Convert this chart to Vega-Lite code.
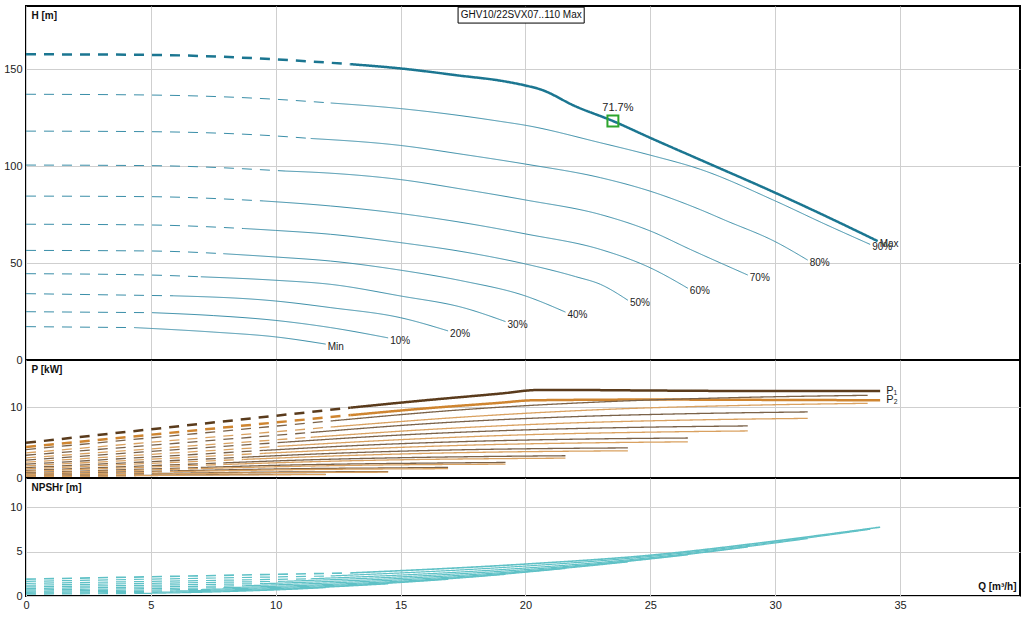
{
  "$schema": "https://vega.github.io/schema/vega-lite/v6.json",
  "padding": {"left": 2, "top": 5, "right": 5, "bottom": 2},
  "background": "white",
  "spacing": 0,
  "bounds": "flush",
  "config": {
    "font": "Liberation Sans",
    "view": {"stroke": "#000000", "strokeWidth": 2},
    "axis": {"labelFont": "Liberation Sans", "labelFontSize": 11, "labelColor": "#222222", "ticks": false, "domain": false, "grid": true, "gridColor": "#cfcfcf", "labelPadding": 4, "labelFlush": false, "titleFont": "Liberation Sans", "titleFontSize": 10, "titleFontWeight": "bold", "titleColor": "#111111"},
    "text": {"font": "Liberation Sans", "fontSize": 10, "color": "#222222"}
  },
  "datasets": {
    "h": [
      {"s":"Max","g":"d","Q":0,"H":157.6},{"s":"Max","g":"d","Q":5,"H":157.3},{"s":"Max","g":"d","Q":10,"H":155},{"s":"Max","g":"d","Q":13,"H":152.5},
      {"s":"Max","g":"s","Q":13,"H":152.5},{"s":"Max","g":"s","Q":15,"H":150.3},{"s":"Max","g":"s","Q":17.5,"H":146.4},{"s":"Max","g":"s","Q":19,"H":144},{"s":"Max","g":"s","Q":20,"H":141.5},{"s":"Max","g":"s","Q":20.6,"H":139.5},{"s":"Max","g":"s","Q":22,"H":130.8},{"s":"Max","g":"s","Q":23.5,"H":123.2},{"s":"Max","g":"s","Q":25,"H":114.5},{"s":"Max","g":"s","Q":27,"H":103.2},{"s":"Max","g":"s","Q":30,"H":86.2},{"s":"Max","g":"s","Q":32,"H":74.3},{"s":"Max","g":"s","Q":34.1,"H":61.3},
      {"s":"90%","g":"d","Q":0,"H":137},{"s":"90%","g":"d","Q":5,"H":136.6},{"s":"90%","g":"d","Q":10,"H":134.4},{"s":"90%","g":"d","Q":12.2,"H":132.5},
      {"s":"90%","g":"s","Q":12.2,"H":132.5},{"s":"90%","g":"s","Q":15,"H":129.6},{"s":"90%","g":"s","Q":17.5,"H":125.8},{"s":"90%","g":"s","Q":19,"H":123},{"s":"90%","g":"s","Q":20,"H":121},{"s":"90%","g":"s","Q":23,"H":112},{"s":"90%","g":"s","Q":25,"H":105.6},{"s":"90%","g":"s","Q":27,"H":98.3},{"s":"90%","g":"s","Q":30,"H":82},{"s":"90%","g":"s","Q":32,"H":70},{"s":"90%","g":"s","Q":33.8,"H":59.6},
      {"s":"80%","g":"d","Q":0,"H":118},{"s":"80%","g":"d","Q":5,"H":117.7},{"s":"80%","g":"d","Q":10,"H":115.5},{"s":"80%","g":"d","Q":11.4,"H":114.2},
      {"s":"80%","g":"s","Q":11.4,"H":114.2},{"s":"80%","g":"s","Q":15,"H":110.6},{"s":"80%","g":"s","Q":17.5,"H":106},{"s":"80%","g":"s","Q":20,"H":101},{"s":"80%","g":"s","Q":23,"H":94},{"s":"80%","g":"s","Q":25,"H":87},{"s":"80%","g":"s","Q":27,"H":77.5},{"s":"80%","g":"s","Q":28,"H":72},{"s":"80%","g":"s","Q":30,"H":61},{"s":"80%","g":"s","Q":31.3,"H":51.5},
      {"s":"70%","g":"d","Q":0,"H":100.5},{"s":"70%","g":"d","Q":5,"H":100.2},{"s":"70%","g":"d","Q":10.4,"H":97.4},
      {"s":"70%","g":"s","Q":10.4,"H":97.4},{"s":"70%","g":"s","Q":12.2,"H":96.3},{"s":"70%","g":"s","Q":15,"H":93},{"s":"70%","g":"s","Q":17.5,"H":88},{"s":"70%","g":"s","Q":20,"H":82.5},{"s":"70%","g":"s","Q":23,"H":75},{"s":"70%","g":"s","Q":25,"H":66.5},{"s":"70%","g":"s","Q":26.6,"H":57},{"s":"70%","g":"s","Q":28.9,"H":43.8},
      {"s":"60%","g":"d","Q":0,"H":84.5},{"s":"60%","g":"d","Q":5,"H":84.2},{"s":"60%","g":"d","Q":9.5,"H":82},
      {"s":"60%","g":"s","Q":9.5,"H":82},{"s":"60%","g":"s","Q":12.2,"H":79.4},{"s":"60%","g":"s","Q":15,"H":75.5},{"s":"60%","g":"s","Q":17.5,"H":70.8},{"s":"60%","g":"s","Q":20,"H":65},{"s":"60%","g":"s","Q":23,"H":57},{"s":"60%","g":"s","Q":25,"H":47.5},{"s":"60%","g":"s","Q":26.5,"H":37},
      {"s":"50%","g":"d","Q":0,"H":70},{"s":"50%","g":"d","Q":5,"H":69.6},{"s":"50%","g":"d","Q":8.7,"H":67.8},
      {"s":"50%","g":"s","Q":8.7,"H":67.8},{"s":"50%","g":"s","Q":10,"H":66.8},{"s":"50%","g":"s","Q":12.2,"H":64.8},{"s":"50%","g":"s","Q":15,"H":60.5},{"s":"50%","g":"s","Q":17.5,"H":55.8},{"s":"50%","g":"s","Q":20,"H":49.5},{"s":"50%","g":"s","Q":22,"H":43},{"s":"50%","g":"s","Q":23,"H":39},{"s":"50%","g":"s","Q":24.1,"H":30.8},
      {"s":"40%","g":"d","Q":0,"H":56.5},{"s":"40%","g":"d","Q":5,"H":56.2},{"s":"40%","g":"d","Q":7.9,"H":54.8},
      {"s":"40%","g":"s","Q":7.9,"H":54.8},{"s":"40%","g":"s","Q":10,"H":53.1},{"s":"40%","g":"s","Q":12.2,"H":51},{"s":"40%","g":"s","Q":15,"H":46.3},{"s":"40%","g":"s","Q":17.5,"H":40.7},{"s":"40%","g":"s","Q":20,"H":33},{"s":"40%","g":"s","Q":21.6,"H":24.7},
      {"s":"30%","g":"d","Q":0,"H":44.5},{"s":"30%","g":"d","Q":5,"H":43.8},{"s":"30%","g":"d","Q":7,"H":42.9},
      {"s":"30%","g":"s","Q":7,"H":42.9},{"s":"30%","g":"s","Q":10,"H":41.1},{"s":"30%","g":"s","Q":12.2,"H":39},{"s":"30%","g":"s","Q":15,"H":33},{"s":"30%","g":"s","Q":17.5,"H":27},{"s":"30%","g":"s","Q":19.2,"H":19.8},
      {"s":"20%","g":"d","Q":0,"H":34.2},{"s":"20%","g":"d","Q":5.9,"H":33.1},
      {"s":"20%","g":"s","Q":5.9,"H":33.1},{"s":"20%","g":"s","Q":10,"H":30.4},{"s":"20%","g":"s","Q":12.2,"H":27},{"s":"20%","g":"s","Q":15,"H":21.8},{"s":"20%","g":"s","Q":16.9,"H":15},
      {"s":"10%","g":"d","Q":0,"H":24.9},{"s":"10%","g":"d","Q":5.05,"H":24.4},
      {"s":"10%","g":"s","Q":5.05,"H":24.4},{"s":"10%","g":"s","Q":7.5,"H":22.9},{"s":"10%","g":"s","Q":10,"H":20.4},{"s":"10%","g":"s","Q":12.2,"H":16.7},{"s":"10%","g":"s","Q":14.5,"H":11.4},
      {"s":"Min","g":"d","Q":0,"H":17.2},{"s":"Min","g":"d","Q":4.35,"H":16.7},
      {"s":"Min","g":"s","Q":4.35,"H":16.7},{"s":"Min","g":"s","Q":7.5,"H":14.4},{"s":"Min","g":"s","Q":10,"H":11.9},{"s":"Min","g":"s","Q":12,"H":8.2}
    ],
    "p": [
      {"s":"Max","k":"P1","g":"d","Q":0,"P":4.98},{"s":"Max","k":"P1","g":"d","Q":13,"P":9.96},
      {"s":"Max","k":"P1","g":"s","Q":13,"P":9.96},{"s":"Max","k":"P1","g":"s","Q":16,"P":11},{"s":"Max","k":"P1","g":"s","Q":19,"P":11.95},{"s":"Max","k":"P1","g":"s","Q":20.5,"P":12.45},{"s":"Max","k":"P1","g":"s","Q":22,"P":12.45},{"s":"Max","k":"P1","g":"s","Q":25,"P":12.38},{"s":"Max","k":"P1","g":"s","Q":30,"P":12.3},{"s":"Max","k":"P1","g":"s","Q":34.2,"P":12.3},
      {"s":"Max","k":"P2","g":"d","Q":0,"P":4.4},{"s":"Max","k":"P2","g":"d","Q":13,"P":8.9},
      {"s":"Max","k":"P2","g":"s","Q":13,"P":8.9},{"s":"Max","k":"P2","g":"s","Q":16,"P":9.85},{"s":"Max","k":"P2","g":"s","Q":19,"P":10.65},{"s":"Max","k":"P2","g":"s","Q":20.3,"P":11},{"s":"Max","k":"P2","g":"s","Q":25,"P":11.1},{"s":"Max","k":"P2","g":"s","Q":30,"P":11.05},{"s":"Max","k":"P2","g":"s","Q":34.2,"P":11},
      {"s":"90%","k":"P1","g":"d","Q":0,"P":4.03},{"s":"90%","k":"P1","g":"d","Q":12.2,"P":8.07},
      {"s":"90%","k":"P1","g":"s","Q":12.2,"P":8.07},{"s":"90%","k":"P1","g":"s","Q":17.7,"P":9.72},{"s":"90%","k":"P1","g":"s","Q":23.3,"P":10.81},{"s":"90%","k":"P1","g":"s","Q":28.9,"P":11.42},{"s":"90%","k":"P1","g":"s","Q":33.7,"P":11.7},
      {"s":"90%","k":"P2","g":"d","Q":0,"P":3.56},{"s":"90%","k":"P2","g":"d","Q":12.2,"P":7.21},
      {"s":"90%","k":"P2","g":"s","Q":12.2,"P":7.21},{"s":"90%","k":"P2","g":"s","Q":17.7,"P":8.67},{"s":"90%","k":"P2","g":"s","Q":23.3,"P":9.72},{"s":"90%","k":"P2","g":"s","Q":28.9,"P":10.29},{"s":"90%","k":"P2","g":"s","Q":33.7,"P":10.57},
      {"s":"80%","k":"P1","g":"d","Q":0,"P":3.22},{"s":"80%","k":"P1","g":"d","Q":11.4,"P":6.44},
      {"s":"80%","k":"P1","g":"s","Q":11.4,"P":6.44},{"s":"80%","k":"P1","g":"s","Q":16.4,"P":7.76},{"s":"80%","k":"P1","g":"s","Q":21.6,"P":8.64},{"s":"80%","k":"P1","g":"s","Q":26.8,"P":9.12},{"s":"80%","k":"P1","g":"s","Q":31.3,"P":9.35},
      {"s":"80%","k":"P2","g":"d","Q":0,"P":2.85},{"s":"80%","k":"P2","g":"d","Q":11.4,"P":5.76},
      {"s":"80%","k":"P2","g":"s","Q":11.4,"P":5.76},{"s":"80%","k":"P2","g":"s","Q":16.4,"P":6.92},{"s":"80%","k":"P2","g":"s","Q":21.6,"P":7.76},{"s":"80%","k":"P2","g":"s","Q":26.8,"P":8.22},{"s":"80%","k":"P2","g":"s","Q":31.3,"P":8.44},
      {"s":"70%","k":"P1","g":"d","Q":0,"P":2.54},{"s":"70%","k":"P1","g":"d","Q":10.4,"P":5.08},
      {"s":"70%","k":"P1","g":"s","Q":10.4,"P":5.08},{"s":"70%","k":"P1","g":"s","Q":15.2,"P":6.12},{"s":"70%","k":"P1","g":"s","Q":20,"P":6.81},{"s":"70%","k":"P1","g":"s","Q":24.8,"P":7.19},{"s":"70%","k":"P1","g":"s","Q":28.9,"P":7.37},
      {"s":"70%","k":"P2","g":"d","Q":0,"P":2.24},{"s":"70%","k":"P2","g":"d","Q":10.4,"P":4.54},
      {"s":"70%","k":"P2","g":"s","Q":10.4,"P":4.54},{"s":"70%","k":"P2","g":"s","Q":15.2,"P":5.46},{"s":"70%","k":"P2","g":"s","Q":20,"P":6.12},{"s":"70%","k":"P2","g":"s","Q":24.8,"P":6.48},{"s":"70%","k":"P2","g":"s","Q":28.9,"P":6.66},
      {"s":"60%","k":"P1","g":"d","Q":0,"P":1.95},{"s":"60%","k":"P1","g":"d","Q":9.5,"P":3.9},
      {"s":"60%","k":"P1","g":"s","Q":9.5,"P":3.9},{"s":"60%","k":"P1","g":"s","Q":13.9,"P":4.7},{"s":"60%","k":"P1","g":"s","Q":18.3,"P":5.23},{"s":"60%","k":"P1","g":"s","Q":22.7,"P":5.53},{"s":"60%","k":"P1","g":"s","Q":26.5,"P":5.66},
      {"s":"60%","k":"P2","g":"d","Q":0,"P":1.72},{"s":"60%","k":"P2","g":"d","Q":9.5,"P":3.49},
      {"s":"60%","k":"P2","g":"s","Q":9.5,"P":3.49},{"s":"60%","k":"P2","g":"s","Q":13.9,"P":4.19},{"s":"60%","k":"P2","g":"s","Q":18.3,"P":4.7},{"s":"60%","k":"P2","g":"s","Q":22.7,"P":4.98},{"s":"60%","k":"P2","g":"s","Q":26.5,"P":5.12},
      {"s":"50%","k":"P1","g":"d","Q":0,"P":1.47},{"s":"50%","k":"P1","g":"d","Q":8.7,"P":2.94},
      {"s":"50%","k":"P1","g":"s","Q":8.7,"P":2.94},{"s":"50%","k":"P1","g":"s","Q":12.7,"P":3.54},{"s":"50%","k":"P1","g":"s","Q":16.7,"P":3.94},{"s":"50%","k":"P1","g":"s","Q":20.6,"P":4.16},{"s":"50%","k":"P1","g":"s","Q":24.1,"P":4.26},
      {"s":"50%","k":"P2","g":"d","Q":0,"P":1.3},{"s":"50%","k":"P2","g":"d","Q":8.7,"P":2.63},
      {"s":"50%","k":"P2","g":"s","Q":8.7,"P":2.63},{"s":"50%","k":"P2","g":"s","Q":12.7,"P":3.16},{"s":"50%","k":"P2","g":"s","Q":16.7,"P":3.54},{"s":"50%","k":"P2","g":"s","Q":20.6,"P":3.75},{"s":"50%","k":"P2","g":"s","Q":24.1,"P":3.85},
      {"s":"40%","k":"P1","g":"d","Q":0,"P":1.07},{"s":"40%","k":"P1","g":"d","Q":7.9,"P":2.14},
      {"s":"40%","k":"P1","g":"s","Q":7.9,"P":2.14},{"s":"40%","k":"P1","g":"s","Q":11.4,"P":2.58},{"s":"40%","k":"P1","g":"s","Q":15,"P":2.87},{"s":"40%","k":"P1","g":"s","Q":18.6,"P":3.05},{"s":"40%","k":"P1","g":"s","Q":21.6,"P":3.15},
      {"s":"40%","k":"P2","g":"d","Q":0,"P":0.95},{"s":"40%","k":"P2","g":"d","Q":7.9,"P":1.91},
      {"s":"40%","k":"P2","g":"s","Q":7.9,"P":1.91},{"s":"40%","k":"P2","g":"s","Q":11.4,"P":2.3},{"s":"40%","k":"P2","g":"s","Q":15,"P":2.58},{"s":"40%","k":"P2","g":"s","Q":18.6,"P":2.73},{"s":"40%","k":"P2","g":"s","Q":21.6,"P":2.81},
      {"s":"30%","k":"P1","g":"d","Q":0,"P":0.75},{"s":"30%","k":"P1","g":"d","Q":7,"P":1.49},
      {"s":"30%","k":"P1","g":"s","Q":7,"P":1.49},{"s":"30%","k":"P1","g":"s","Q":10.1,"P":1.8},{"s":"30%","k":"P1","g":"s","Q":13.3,"P":2},{"s":"30%","k":"P1","g":"s","Q":16.5,"P":2.12},{"s":"30%","k":"P1","g":"s","Q":19.2,"P":2.2},
      {"s":"30%","k":"P2","g":"d","Q":0,"P":0.66},{"s":"30%","k":"P2","g":"d","Q":7,"P":1.34},
      {"s":"30%","k":"P2","g":"s","Q":7,"P":1.34},{"s":"30%","k":"P2","g":"s","Q":10.1,"P":1.6},{"s":"30%","k":"P2","g":"s","Q":13.3,"P":1.8},{"s":"30%","k":"P2","g":"s","Q":16.5,"P":1.91},{"s":"30%","k":"P2","g":"s","Q":19.2,"P":1.96},
      {"s":"20%","k":"P1","g":"d","Q":0,"P":0.5},{"s":"20%","k":"P1","g":"d","Q":5.9,"P":1.01},
      {"s":"20%","k":"P1","g":"s","Q":5.9,"P":1.01},{"s":"20%","k":"P1","g":"s","Q":8.85,"P":1.21},{"s":"20%","k":"P1","g":"s","Q":11.65,"P":1.35},{"s":"20%","k":"P1","g":"s","Q":14.4,"P":1.42},{"s":"20%","k":"P1","g":"s","Q":16.9,"P":1.5},
      {"s":"20%","k":"P2","g":"d","Q":0,"P":0.44},{"s":"20%","k":"P2","g":"d","Q":5.9,"P":0.9},
      {"s":"20%","k":"P2","g":"s","Q":5.9,"P":0.9},{"s":"20%","k":"P2","g":"s","Q":8.85,"P":1.08},{"s":"20%","k":"P2","g":"s","Q":11.65,"P":1.21},{"s":"20%","k":"P2","g":"s","Q":14.4,"P":1.28},{"s":"20%","k":"P2","g":"s","Q":16.9,"P":1.32},
      {"s":"10%","k":"P1","g":"d","Q":0,"P":0.31},{"s":"10%","k":"P1","g":"d","Q":5.05,"P":0.62},
      {"s":"10%","k":"P1","g":"s","Q":5.05,"P":0.62},{"s":"10%","k":"P1","g":"s","Q":7.54,"P":0.75},{"s":"10%","k":"P1","g":"s","Q":9.9,"P":0.84},{"s":"10%","k":"P1","g":"s","Q":12.3,"P":0.88},{"s":"10%","k":"P1","g":"s","Q":14.5,"P":0.9},
      {"s":"10%","k":"P2","g":"d","Q":0,"P":0.28},{"s":"10%","k":"P2","g":"d","Q":5.05,"P":0.56},
      {"s":"10%","k":"P2","g":"s","Q":5.05,"P":0.56},{"s":"10%","k":"P2","g":"s","Q":7.54,"P":0.67},{"s":"10%","k":"P2","g":"s","Q":9.9,"P":0.75},{"s":"10%","k":"P2","g":"s","Q":12.3,"P":0.8},{"s":"10%","k":"P2","g":"s","Q":14.5,"P":0.82},
      {"s":"Min","k":"P1","g":"d","Q":0,"P":0.18},{"s":"Min","k":"P1","g":"d","Q":4.35,"P":0.36},
      {"s":"Min","k":"P1","g":"s","Q":4.35,"P":0.36},{"s":"Min","k":"P1","g":"s","Q":6.27,"P":0.43},{"s":"Min","k":"P1","g":"s","Q":8.25,"P":0.48},{"s":"Min","k":"P1","g":"s","Q":10.2,"P":0.51},{"s":"Min","k":"P1","g":"s","Q":12,"P":0.52},
      {"s":"Min","k":"P2","g":"d","Q":0,"P":0.16},{"s":"Min","k":"P2","g":"d","Q":4.35,"P":0.32},
      {"s":"Min","k":"P2","g":"s","Q":4.35,"P":0.32},{"s":"Min","k":"P2","g":"s","Q":6.27,"P":0.39},{"s":"Min","k":"P2","g":"s","Q":8.25,"P":0.43},{"s":"Min","k":"P2","g":"s","Q":10.2,"P":0.46},{"s":"Min","k":"P2","g":"s","Q":12,"P":0.47}
    ],
    "n": [
      {"s":"Max","g":"d","Q":0,"N":1.9},{"s":"Max","g":"d","Q":13,"N":2.6},
      {"s":"Max","g":"s","Q":13,"N":2.6},{"s":"Max","g":"s","Q":20,"N":3.6},{"s":"Max","g":"s","Q":25,"N":4.6},{"s":"Max","g":"s","Q":30,"N":6.2},{"s":"Max","g":"s","Q":34.2,"N":7.76},
      {"s":"90%","g":"d","Q":0,"N":1.65},{"s":"90%","g":"d","Q":12.2,"N":2.26},
      {"s":"90%","g":"s","Q":12.2,"N":2.26},{"s":"90%","g":"s","Q":18.6,"N":3.13},{"s":"90%","g":"s","Q":25.2,"N":4.52},{"s":"90%","g":"s","Q":29.8,"N":6},{"s":"90%","g":"s","Q":33.8,"N":7.52},
      {"s":"80%","g":"d","Q":0,"N":1.42},{"s":"80%","g":"d","Q":11.4,"N":1.94},
      {"s":"80%","g":"s","Q":11.4,"N":1.94},{"s":"80%","g":"s","Q":17.3,"N":2.69},{"s":"80%","g":"s","Q":23.4,"N":3.89},{"s":"80%","g":"s","Q":27.7,"N":5.16},{"s":"80%","g":"s","Q":31.3,"N":6.47},
      {"s":"70%","g":"d","Q":0,"N":1.21},{"s":"70%","g":"d","Q":10.4,"N":1.66},
      {"s":"70%","g":"s","Q":10.4,"N":1.66},{"s":"70%","g":"s","Q":16,"N":2.3},{"s":"70%","g":"s","Q":21.6,"N":3.32},{"s":"70%","g":"s","Q":25.6,"N":4.4},{"s":"70%","g":"s","Q":28.9,"N":5.52},
      {"s":"60%","g":"d","Q":0,"N":1.02},{"s":"60%","g":"d","Q":9.5,"N":1.39},
      {"s":"60%","g":"s","Q":9.5,"N":1.39},{"s":"60%","g":"s","Q":14.6,"N":1.93},{"s":"60%","g":"s","Q":19.8,"N":2.79},{"s":"60%","g":"s","Q":23.4,"N":3.7},{"s":"60%","g":"s","Q":26.5,"N":4.64},
      {"s":"50%","g":"d","Q":0,"N":0.84},{"s":"50%","g":"d","Q":8.7,"N":1.15},
      {"s":"50%","g":"s","Q":8.7,"N":1.15},{"s":"50%","g":"s","Q":13.3,"N":1.6},{"s":"50%","g":"s","Q":18,"N":2.31},{"s":"50%","g":"s","Q":21.3,"N":3.06},{"s":"50%","g":"s","Q":24.1,"N":3.84},
      {"s":"40%","g":"d","Q":0,"N":0.68},{"s":"40%","g":"d","Q":7.9,"N":0.93},
      {"s":"40%","g":"s","Q":7.9,"N":0.93},{"s":"40%","g":"s","Q":12,"N":1.29},{"s":"40%","g":"s","Q":16.2,"N":1.87},{"s":"40%","g":"s","Q":19.2,"N":2.48},{"s":"40%","g":"s","Q":21.6,"N":3.1},
      {"s":"30%","g":"d","Q":0,"N":0.54},{"s":"30%","g":"d","Q":7,"N":0.73},
      {"s":"30%","g":"s","Q":7,"N":0.73},{"s":"30%","g":"s","Q":10.6,"N":1.02},{"s":"30%","g":"s","Q":14.3,"N":1.47},{"s":"30%","g":"s","Q":17,"N":1.95},{"s":"30%","g":"s","Q":19.2,"N":2.44},
      {"s":"20%","g":"d","Q":0,"N":0.41},{"s":"20%","g":"d","Q":5.9,"N":0.56},
      {"s":"20%","g":"s","Q":5.9,"N":0.56},{"s":"20%","g":"s","Q":9.3,"N":0.78},{"s":"20%","g":"s","Q":12.6,"N":1.13},{"s":"20%","g":"s","Q":14.9,"N":1.5},{"s":"20%","g":"s","Q":16.9,"N":1.88},
      {"s":"10%","g":"d","Q":0,"N":0.3},{"s":"10%","g":"d","Q":5.05,"N":0.41},
      {"s":"10%","g":"s","Q":5.05,"N":0.41},{"s":"10%","g":"s","Q":7.94,"N":0.57},{"s":"10%","g":"s","Q":10.7,"N":0.82},{"s":"10%","g":"s","Q":12.7,"N":1.09},{"s":"10%","g":"s","Q":14.5,"N":1.37},
      {"s":"Min","g":"d","Q":0,"N":0.21},{"s":"Min","g":"d","Q":4.35,"N":0.28},
      {"s":"Min","g":"s","Q":4.35,"N":0.28},{"s":"Min","g":"s","Q":6.6,"N":0.39},{"s":"Min","g":"s","Q":8.9,"N":0.57},{"s":"Min","g":"s","Q":10.6,"N":0.75},{"s":"Min","g":"s","Q":12,"N":0.94}
    ]
  },
  "vconcat": [
    {
      "width": 994,
      "height": 354,
      "layer": [
        {
          "data": {"name": "h"},
          "mark": {"type": "line", "interpolate": "monotone"},
          "encoding": {
            "x": {"field": "Q", "type": "quantitative", "scale": {"domain": [0, 39.8], "nice": false, "zero": false}, "axis": {"labels": false, "title": null, "labelPadding": 0, "minExtent": 0, "maxExtent": 0, "values": [0, 5, 10, 15, 20, 25, 30, 35]}},
            "y": {"field": "H", "type": "quantitative", "scale": {"domain": [0, 182.5], "nice": false}, "axis": {"values": [0, 50, 100, 150], "title": "H [m]", "titleAngle": 0, "titleAlign": "left", "titleBaseline": "top", "titleX": 5, "titleY": 4}},
            "detail": [{"field": "s"}, {"field": "g"}],
            "strokeDash": {"field": "g", "type": "nominal", "scale": {"domain": ["d", "s"], "range": [[10, 8], [1, 0]]}, "legend": null},
            "color": {"condition": {"test": "datum.s == 'Max'", "value": "#1b7691"}, "value": "#3a8ea8"},
            "strokeWidth": {"condition": {"test": "datum.s == 'Max'", "value": 2.5}, "value": 1}
          }
        },
        {
          "data": {"name": "h"},
          "transform": [
            {"filter": "datum.g == 's'"},
            {"joinaggregate": [{"op": "max", "field": "Q", "as": "mq"}], "groupby": ["s"]},
            {"filter": "datum.Q == datum.mq"}
          ],
          "mark": {"type": "text", "align": "left", "baseline": "middle", "dx": 2, "dy": 3, "fontSize": 10},
          "encoding": {
            "x": {"field": "Q", "type": "quantitative"},
            "y": {"field": "H", "type": "quantitative"},
            "text": {"field": "s"}
          }
        },
        {
          "data": {"values": [{"t": "GHV10/22SVX07..110 Max"}]},
          "mark": {"type": "rect", "fill": "white", "stroke": "#000000", "strokeWidth": 1},
          "encoding": {
            "x": {"datum": 17.3, "type": "quantitative"},
            "x2": {"datum": 22.35},
            "y": {"datum": 173.7, "type": "quantitative"},
            "y2": {"datum": 181.9}
          }
        },
        {
          "data": {"values": [{"t": "GHV10/22SVX07..110 Max"}]},
          "mark": {"type": "text", "align": "center", "baseline": "middle", "fontSize": 10, "color": "#111111"},
          "encoding": {
            "x": {"datum": 19.83, "type": "quantitative"},
            "y": {"datum": 177.8, "type": "quantitative"},
            "text": {"field": "t"}
          }
        },
        {
          "data": {"values": [{"Q": 23.5, "H": 123.2, "t": "71.7%"}]},
          "mark": {"type": "point", "shape": "square", "filled": false, "size": 120, "color": "#2ea52e", "strokeWidth": 2, "opacity": 1},
          "encoding": {
            "x": {"field": "Q", "type": "quantitative"},
            "y": {"field": "H", "type": "quantitative"}
          }
        },
        {
          "data": {"values": [{"Q": 23.5, "H": 123.2, "t": "71.7%"}]},
          "mark": {"type": "text", "align": "center", "baseline": "middle", "dx": 5, "dy": -13, "fontSize": 11},
          "encoding": {
            "x": {"field": "Q", "type": "quantitative"},
            "y": {"field": "H", "type": "quantitative"},
            "text": {"field": "t"}
          }
        }
      ]
    },
    {
      "width": 994,
      "height": 118,
      "layer": [
        {
          "data": {"name": "p"},
          "mark": {"type": "line", "interpolate": "monotone"},
          "encoding": {
            "x": {"field": "Q", "type": "quantitative", "scale": {"domain": [0, 39.8], "nice": false, "zero": false}, "axis": {"labels": false, "title": null, "labelPadding": 0, "minExtent": 0, "maxExtent": 0, "values": [0, 5, 10, 15, 20, 25, 30, 35]}},
            "y": {"field": "P", "type": "quantitative", "scale": {"domain": [0, 16.7], "nice": false}, "axis": {"values": [0, 10], "title": "P [kW]", "titleAngle": 0, "titleAlign": "left", "titleBaseline": "top", "titleX": 5, "titleY": 4}},
            "detail": [{"field": "s"}, {"field": "k"}, {"field": "g"}],
            "strokeDash": {"field": "g", "type": "nominal", "scale": {"domain": ["d", "s"], "range": [[10, 8], [1, 0]]}, "legend": null},
            "color": {"condition": [
              {"test": "datum.s == 'Max' && datum.k == 'P1'", "value": "#5a3b1c"},
              {"test": "datum.s == 'Max'", "value": "#cf8530"},
              {"test": "datum.k == 'P1'", "value": "#7a6249"}
            ], "value": "#d9a160"},
            "strokeWidth": {"condition": {"test": "datum.s == 'Max'", "value": 2.5}, "value": 1.3}
          }
        },
        {
          "data": {"values": [{"t": "P₁", "Q": 34.2, "P": 12.3}, {"t": "P₂", "Q": 34.2, "P": 11.0}]},
          "mark": {"type": "text", "align": "left", "baseline": "middle", "dx": 6, "dy": 0, "fontSize": 11},
          "encoding": {
            "x": {"field": "Q", "type": "quantitative"},
            "y": {"field": "P", "type": "quantitative"},
            "text": {"field": "t"}
          }
        }
      ]
    },
    {
      "width": 994,
      "height": 118,
      "data": {"name": "n"},
      "mark": {"type": "line", "interpolate": "monotone"},
      "encoding": {
        "x": {"field": "Q", "type": "quantitative", "scale": {"domain": [0, 39.8], "nice": false, "zero": false}, "axis": {"values": [0, 5, 10, 15, 20, 25, 30, 35], "labelPadding": 3, "title": "Q [m³/h]", "titleAlign": "right", "titleBaseline": "bottom", "titleX": 990, "titleY": -5}},
        "y": {"field": "N", "type": "quantitative", "scale": {"domain": [0, 13.3], "nice": false}, "axis": {"values": [0, 5, 10], "title": "NPSHr [m]", "titleAngle": 0, "titleAlign": "left", "titleBaseline": "top", "titleX": 5, "titleY": 4}},
        "detail": [{"field": "s"}, {"field": "g"}],
        "strokeDash": {"field": "g", "type": "nominal", "scale": {"domain": ["d", "s"], "range": [[10, 8], [1, 0]]}, "legend": null},
        "color": {"value": "#5fc1c6"},
        "strokeWidth": {"condition": {"test": "datum.s == 'Max'", "value": 1.6}, "value": 1.2}
      }
    }
  ]
}
